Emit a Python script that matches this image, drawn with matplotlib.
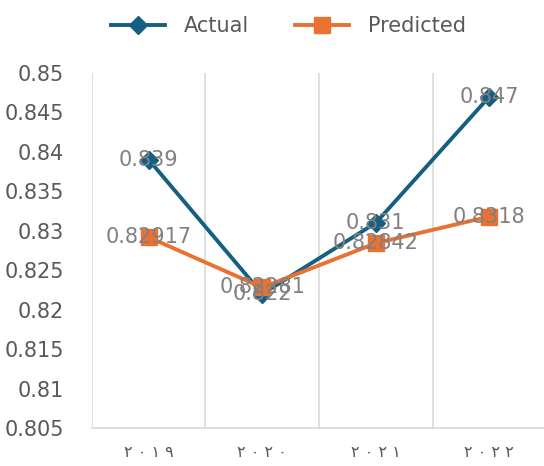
import matplotlib.pyplot as plt
from matplotlib.ticker import FixedLocator

years = ['٢ ٠ ١ ٩', '٢ ٠ ٢ ٠', '٢ ٠ ٢ ١', '٢ ٠ ٢ ٢']
actual = [0.839, 0.822, 0.831, 0.847]
predicted = [0.82917, 0.82281, 0.82842, 0.8318]
actual_lbl = ['0.839', '0.822', '0.831', '0.847']
pred_lbl = ['0.82917', '0.82281', '0.82842', '0.8318']
yticks = [0.805, 0.81, 0.815, 0.82, 0.825, 0.83, 0.835, 0.84, 0.845, 0.85]

blue = '#156082'
orange = '#E97132'
txt = '#595959'
grid = '#d9d9d9'

fig = plt.figure(figsize=(5.44, 4.66), dpi=100)
ax = fig.add_axes([0.169, 0.0815, 0.835, 0.762])

xs = list(range(len(years)))
ax.plot(xs, actual, color=blue, lw=2.8, marker='D', ms=9, label='Actual', zorder=3)
ax.plot(xs, predicted, color=orange, lw=2.8, marker='s', ms=11, label='Predicted', zorder=3)

# data labels sit centred on the points, like the original
for x, v, s in zip(xs, actual, actual_lbl):
    ax.text(x, v, s, ha='center', va='center', fontsize=15, color='#808080', zorder=4)
for x, v, s in zip(xs, predicted, pred_lbl):
    ax.text(x, v, s, ha='center', va='center', fontsize=15, color='#808080', zorder=4)

ax.set_xlim(-0.5, 3.5)
ax.set_ylim(0.805, 0.85)
ax.set_yticks(yticks)
ax.set_yticklabels([('%g' % t) for t in yticks])
ax.set_xticks(xs)
ax.set_xticklabels(years)
ax.xaxis.set_minor_locator(FixedLocator([-0.5, 0.5, 1.5, 2.5, 3.5]))
ax.grid(True, which='minor', axis='x', color=grid, lw=1.2)
ax.tick_params(axis='both', which='both', length=0)
ax.tick_params(axis='y', labelsize=15, labelcolor=txt, pad=20)
ax.tick_params(axis='x', labelsize=11.5, labelcolor=txt, pad=12)
for side in ['top', 'right', 'left']:
    ax.spines[side].set_visible(False)
ax.spines['bottom'].set_color(grid)
ax.spines['bottom'].set_linewidth(1.2)

leg = fig.legend(loc='upper center', bbox_to_anchor=(0.53, 1.005), ncol=2, frameon=False,
                 fontsize=15, handlelength=2.6, handletextpad=0.9, columnspacing=2.2,
                 labelcolor=txt)

fig.savefig('out.png', dpi=100)
